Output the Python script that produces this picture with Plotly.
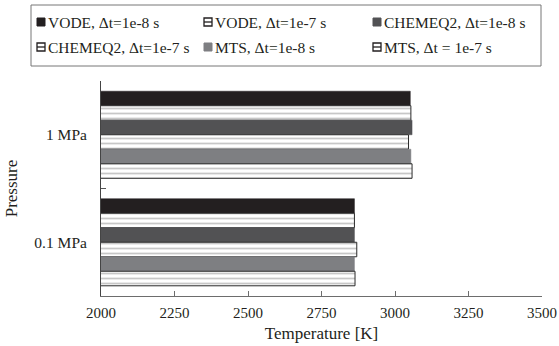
import plotly.graph_objects as go

pressures = ["1 MPa", "0.1 MPa"]
series_names = [
    "VODE, \u0394t=1e-8 s",
    "VODE, \u0394t=1e-7 s",
    "CHEMEQ2, \u0394t=1e-8 s",
    "CHEMEQ2, \u0394t=1e-7 s",
    "MTS, \u0394t=1e-8 s",
    "MTS, \u0394t = 1e-7 s",
]
# temperature [K] per series, ordered as pressures
vode_1e8 = [3052, 2862]
vode_1e7 = [3054, 2862]
chemeq2_1e8 = [3058, 2862]
chemeq2_1e7 = [3046, 2870]
mts_1e8 = [3054, 2862]
mts_1e7 = [3058, 2864]
values = [vode_1e8, vode_1e7, chemeq2_1e8, chemeq2_1e7, mts_1e8, mts_1e7]

fills = ["#231f20", None, "#525254", None, "#7e7f82", None]

W, H = 559, 346
M = dict(l=101, r=17, t=81, b=50)
FONT = "Liberation Serif, Times New Roman, serif"
INK = "#231f20"


def px_x(x):
    return (x - M["l"]) / (W - M["l"] - M["r"])


def px_y(y):
    return (H - M["b"] - y) / (H - M["t"] - M["b"])


fig = go.Figure()
for name, vals, fill in zip(series_names, values, fills):
    if fill is not None:
        marker = dict(color=fill, line=dict(color=fill, width=0.5))
    else:
        marker = dict(
            color="white",
            line=dict(color="#2a2a2a", width=1),
            pattern=dict(shape="-", fgcolor="#8f8f8f", bgcolor="white",
                         size=5, solidity=0.35),
        )
    fig.add_trace(go.Bar(x=vals, y=pressures, orientation="h", name=name,
                         marker=marker, showlegend=False))

# legend box: three columns, two rows
shapes = [dict(type="rect", xref="paper", yref="paper",
               x0=px_x(31), x1=px_x(541), y0=px_y(66), y1=px_y(5),
               line=dict(color="#777", width=1), fillcolor="white", layer="above")]
annotations = []
col_left = [37, 204, 373]
row_mid = [22, 47]
for i, (name, fill) in enumerate(zip(series_names, fills)):
    cx = col_left[i % 3]
    cy = row_mid[i // 3]
    s = 8
    if fill is not None:
        shapes.append(dict(type="rect", xref="paper", yref="paper",
                           x0=px_x(cx), x1=px_x(cx + s),
                           y0=px_y(cy + s / 2), y1=px_y(cy - s / 2),
                           fillcolor=fill, line=dict(color=fill, width=1),
                           layer="above"))
    else:
        shapes.append(dict(type="rect", xref="paper", yref="paper",
                           x0=px_x(cx), x1=px_x(cx + s),
                           y0=px_y(cy + s / 2), y1=px_y(cy - s / 2),
                           fillcolor="white", line=dict(color=INK, width=1.3),
                           layer="above"))
        shapes.append(dict(type="line", xref="paper", yref="paper",
                           x0=px_x(cx), x1=px_x(cx + s),
                           y0=px_y(cy), y1=px_y(cy),
                           line=dict(color=INK, width=1.3), layer="above"))
    annotations.append(dict(text=name, xref="paper", yref="paper",
                            x=px_x(cx + s + 1), y=px_y(cy), xanchor="left",
                            yanchor="middle", showarrow=False,
                            font=dict(family=FONT, size=15.5, color=INK)))

fig.update_layout(
    width=W, height=H,
    margin=M,
    paper_bgcolor="white", plot_bgcolor="white",
    barmode="group", bargap=0.19, bargroupgap=0,
    font=dict(family=FONT, size=15, color=INK),
    showlegend=False,
    shapes=shapes,
    annotations=annotations,
    xaxis=dict(
        range=[2000, 3500], tickvals=[2000, 2250, 2500, 2750, 3000, 3250, 3500],
        showgrid=False, zeroline=False, showline=True, linecolor="#6d6d6d",
        ticks="inside", ticklen=5, tickcolor="#6d6d6d",
        ticklabelstandoff=3, automargin=False,
        title=dict(text="Temperature [K]", standoff=7, font=dict(size=17)),
        tickfont=dict(size=15),
    ),
    yaxis=dict(
        autorange="reversed", type="category", automargin=False,
        showgrid=False, zeroline=False, showline=True, linecolor="#444",
        ticks="inside", ticklen=5, tickcolor="#555", tickson="boundaries",
        ticklabelstandoff=10,
        title=dict(text="Pressure", standoff=12, font=dict(size=17)),
        tickfont=dict(size=15.5),
    ),
)

fig.write_html("out.html")
